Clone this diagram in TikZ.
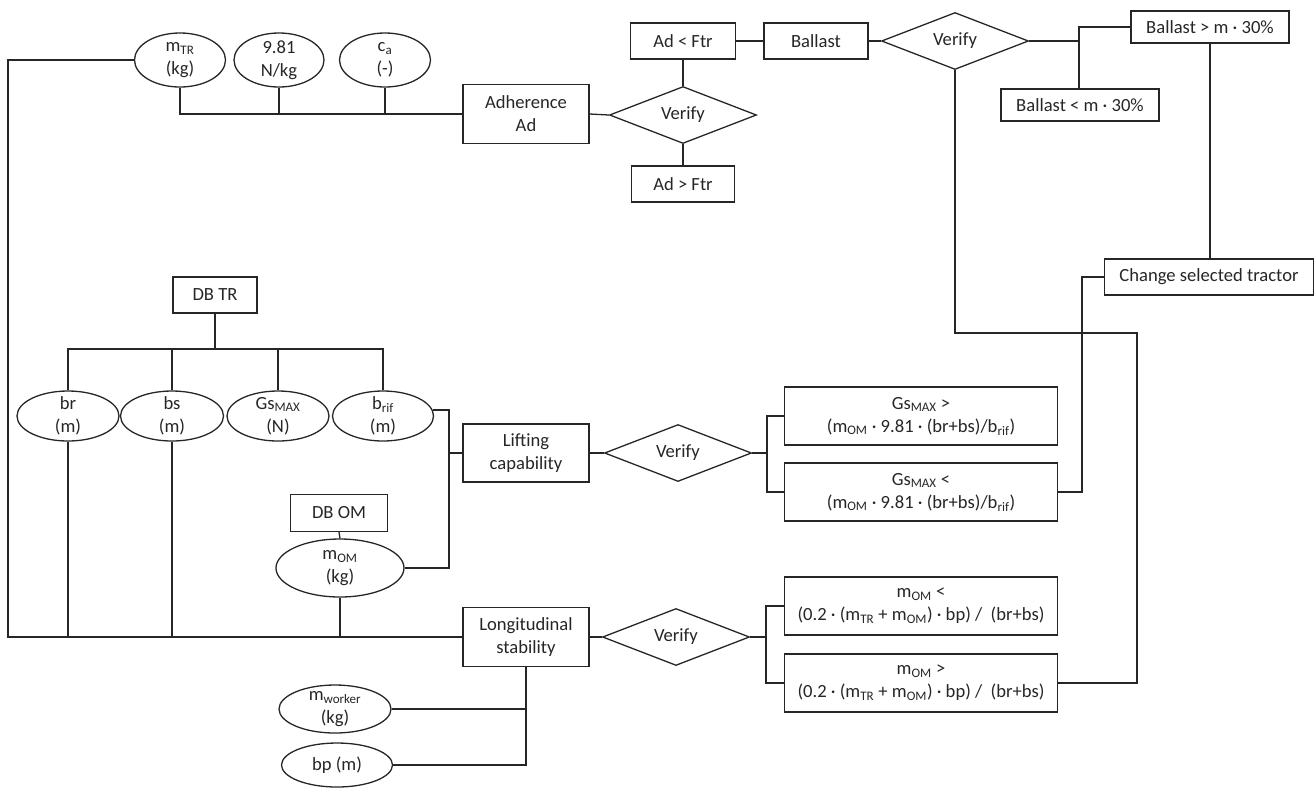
\documentclass[tikz,border=0pt]{standalone}
\usepackage{fontspec}
\setmainfont{Carlito}
\usetikzlibrary{shapes.geometric}

\begin{document}
\begin{tikzpicture}[x=1pt, y=-1pt, line width=1.3pt, color=black!85,
  font=\fontsize{18.6}{23}\selectfont,
  box/.style 2 args={draw, rectangle, align=center, inner sep=2pt, minimum width=#1, minimum height=#2},
  oval/.style 2 args={draw, ellipse, align=center, inner sep=-8pt, minimum width=#1, minimum height=#2},
  verify/.style={draw, diamond, inner sep=0pt, aspect=2.5, minimum width=147, minimum height=57}]
  \useasboundingbox (0,0) rectangle (1316,788);

  \node[oval={91}{54}] (mtr) at (180,60) {m\textsubscript{TR}\\(kg)};
  \node[oval={90}{54}] (g) at (279,60) {9.81\\N/kg};
  \node[oval={91}{54}] (ca) at (385,60) {c\textsubscript{a}\\(-)};
  \node[box={126}{59}] (adh) at (526,114) {Adherence\\Ad};
  \node[verify] (ver1) at (683,115) {Verify};
  \node[box={105}{36}] (adlt) at (683,41) {Ad < Ftr};
  \node[box={103}{36}] (adgt) at (683,184) {Ad > Ftr};
  \node[box={104}{36}] (ball) at (816,41) {Ballast};
  \node[verify] (ver2) at (955,41) {Verify};
  \node[box={158}{32}] (ballgt) at (1210,27) {Ballast > m · 30\%};
  \node[box={158}{32}] (balllt) at (1080,105) {Ballast < m · 30\%};
  \node[box={209}{36}] (chg) at (1209,277) {Change selected tractor};

  \node[box={84}{36}] (dbtr) at (215,295) {DB TR};
  \node[oval={102}{50}] (br) at (68,416) {br\\(m)};
  \node[oval={103}{50}] (bs) at (172,416) {bs\\(m)};
  \node[oval={102}{50}] (gsmax) at (278,416) {Gs\textsubscript{MAX}\\(N)};
  \node[oval={101}{50}] (brif) at (383,416) {b\textsubscript{rif}\\(m)};
  \node[box={126}{58}] (lift) at (526,453) {Lifting\\capability};
  \node[verify] (ver3) at (678,453) {Verify};
  \node[box={273}{58}] (gsgt) at (921,416) {Gs\textsubscript{MAX} >\\(m\textsubscript{OM} · 9.81 · (br+bs)/b\textsubscript{rif})};
  \node[box={273}{58}] (gslt) at (921,492) {Gs\textsubscript{MAX} <\\(m\textsubscript{OM} · 9.81 · (br+bs)/b\textsubscript{rif})};
  \node[box={97}{37}] (dbom) at (339,513) {DB OM};
  \node[oval={128}{58}] (mom) at (340,568) {m\textsubscript{OM}\\(kg)};

  \node[box={126}{59}] (long) at (526,637) {Longitudinal\\stability};
  \node[verify] (ver4) at (676,637) {Verify};
  \node[box={273}{58}] (momlt) at (921,606) {m\textsubscript{OM} <\\(0.2 · (m\textsubscript{TR} + m\textsubscript{OM}) · bp) /\ \ (br+bs)};
  \node[box={273}{58}] (momgt) at (921,683) {m\textsubscript{OM} >\\(0.2 · (m\textsubscript{TR} + m\textsubscript{OM}) · bp) /\ \ (br+bs)};
  \node[oval={112}{48}] (mwork) at (335,709) {m\textsubscript{worker}\\(kg)};
  \node[oval={111}{44}] (bp) at (337,765) {bp (m)};

  \coordinate (lb) at (8,60);
  \coordinate (tr) at (215,349);
  \coordinate (lj) at (449,453);
  \coordinate (v2j) at (1079,41);
  \coordinate (cj) at (1082,277);
  \coordinate (rb) at (1137,333);
  \coordinate (v3j) at (767,453);
  \coordinate (v4j) at (766,637);

  \draw (mtr.west) -- (lb) |- (long.west);
  \draw (mtr.south) |- (adh.west);
  \draw (g.south) -- (g.south |- adh.west);
  \draw (ca.south) -- (ca.south |- adh.west);
  \draw (adh.east) -- (ver1.west);
  \draw (adlt.south) -- (ver1.north);
  \draw (ver1.south) -- (adgt.north);
  \draw (adlt.east) -- (ball.west);
  \draw (ball.east) -- (ver2.west);
  \draw (ver2.east) -- (v2j) |- (ballgt.west);
  \draw (v2j) -- (v2j |- balllt.north);
  \draw (ballgt.south) -- (ballgt.south |- chg.north);
  \draw (chg.west) -- (cj) |- (gslt.east);
  \draw (ver2.south) |- (rb) |- (momgt.east);

  \draw (dbtr.south) -- (tr);
  \draw (br.north) |- (tr) -| (brif.north);
  \draw (bs.north) -- (bs.north |- tr);
  \draw (gsmax.north) -- (gsmax.north |- tr);
  \draw (brif.7) -| (lj) -- (lift.west);
  \draw (mom.east) -| (lj);
  \draw (dbom.south) -- (mom.north);
  \draw (br.south) -- (br.south |- long.west);
  \draw (bs.south) -- (bs.south |- long.west);
  \draw (mom.south) -- (mom.south |- long.west);
  \draw (lift.east) -- (ver3.west);
  \draw (ver3.east) -- (v3j) |- (gsgt.west);
  \draw (v3j) |- (gslt.west);

  \draw (long.east) -- (ver4.west);
  \draw (ver4.east) -- (v4j) |- (momlt.west);
  \draw (v4j) |- (momgt.west);
  \draw (long.south) |- (bp.east);
  \draw (mwork.east) -- (mwork.east -| long.south);
\end{tikzpicture}
\end{document}
